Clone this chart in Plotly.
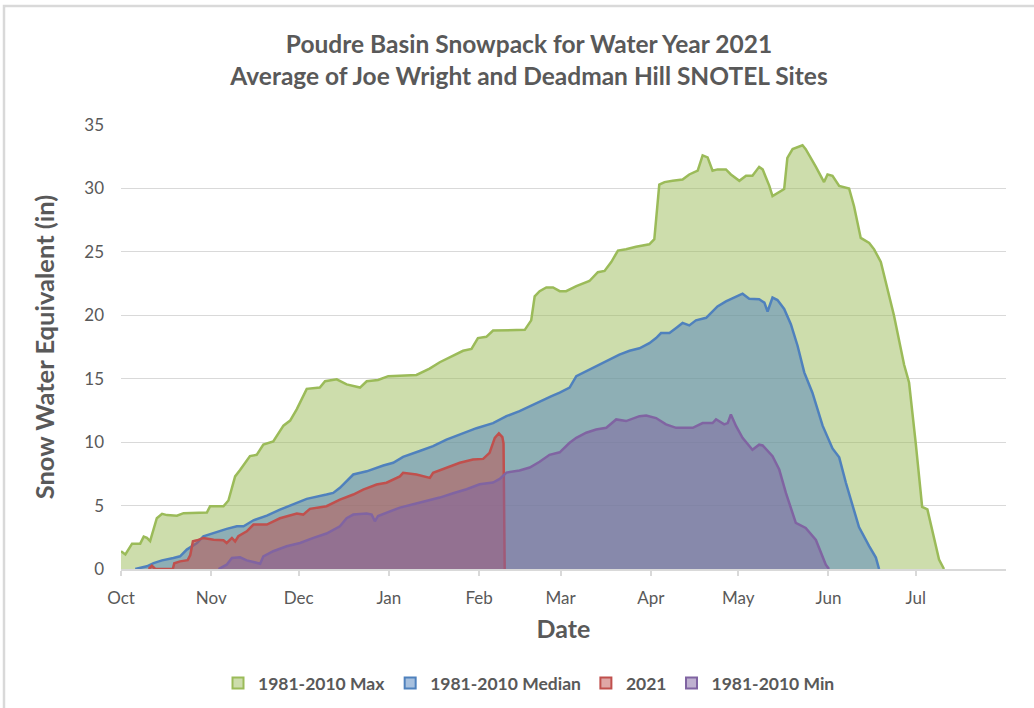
import pandas as pd
import plotly.graph_objects as go

# Day of water year (days since 2020-10-01) and snow water equivalent (in)
max_days = [0, 1.5, 3.8, 6.6, 7.8, 8.9, 10.0, 11.2, 12.3, 14.1, 15.8, 19.2, 21.5, 29.5, 30.6, 35.2, 36.9,
            39.2, 40.9, 44.3, 46.6, 48.9, 52.3, 55.8, 58.1, 60.4, 63.8, 68.3, 70.1, 74.1, 77.5, 82.1, 84.4,
            88.3, 91.8, 101.5, 106, 109.5, 117.5, 120.4, 122.6, 125.5, 127.8, 138.7, 140.9, 142.1, 143.8,
            146.1, 148.4, 150.7, 152.9, 156.4, 160.9, 163.8, 166.1, 168.4, 170.7, 173.5, 176.9, 181.5,
            183.2, 184.9, 186.7, 189.5, 192.9, 195.2, 198.1, 199.8, 201.5, 203.2, 204.9, 207.8, 209.5,
            212.4, 214.7, 216.9, 219.2, 220.4, 222.7, 223.8, 226.1, 227.8, 228.9, 230.7, 234.1, 235.2,
            238.7, 241.5, 242.7, 244.4, 246.7, 250.1, 251.8, 254.1, 257, 258.7, 261, 263.2, 265.5, 269,
            270.7, 273, 275.2, 277, 278.1, 281, 282.7]
max_vals = [1.4, 1.15, 2.0, 2.0, 2.55, 2.45, 2.2, 3.1, 4.0, 4.35, 4.25, 4.2, 4.4, 4.45, 4.95, 4.95, 5.4,
            7.3, 7.8, 8.9, 9.0, 9.8, 10.05, 11.3, 11.7, 12.6, 14.2, 14.3, 14.8, 14.95, 14.55, 14.3, 14.8,
            14.9, 15.2, 15.3, 15.8, 16.3, 17.2, 17.35, 18.2, 18.3, 18.8, 18.85, 19.6, 21.5, 21.9,
            22.2, 22.2, 21.9, 21.9, 22.3, 22.7, 23.4, 23.5, 24.2, 25.1, 25.2, 25.4, 25.6,
            26.0, 30.3, 30.5, 30.6, 30.7, 31.1, 31.4, 32.6, 32.45, 31.4, 31.5, 31.5, 31.1,
            30.6, 31.0, 31.0, 31.7, 31.5, 30.2, 29.4, 29.7, 29.95, 32.4, 33.1, 33.4, 33.1,
            31.7, 30.5, 31.1, 31.0, 30.2, 30.0, 28.6, 26.1, 25.7, 25.2, 24.2, 22.1, 20.0, 16.1,
            14.7, 9.9, 4.9, 4.7, 3.6, 0.74, 0]

median_days = [4.9, 8.9, 11.2, 14.1, 18.0, 20.3, 22.6, 26.1, 28.3, 31.8, 36.3, 39.8, 42.1, 45.5, 50.1,
               54.6, 60.4, 63.8, 70.6, 72.9, 75.2, 79.8, 84.4, 90.1, 93.5, 96.9, 102.6, 107.2, 111.8,
               116.4, 122.1, 127.8, 132.4, 136.9, 141.5, 145.0, 147.9, 150.7, 154.1, 156.4, 160.9, 164.4,
               167.8, 171.2, 174.7, 178.1, 181.5, 183.8, 185.5, 188.4, 190.7, 192.9, 195.2, 197.5, 201,
               202.7, 204.9, 207.8, 210.7, 213.5, 215.8, 219.2, 221, 222.1, 223.8, 225.5, 227.8, 230.1,
               232.4, 234.7, 237.5, 241, 244.4, 246.7, 249, 251.8, 253.5, 257, 259.3, 260.4]
median_vals = [0, 0.21, 0.47, 0.68, 0.87, 1.0, 1.53, 2.05, 2.58, 2.84, 3.16, 3.37, 3.37, 3.84, 4.21,
               4.68, 5.21, 5.53, 5.87, 6.0, 6.4, 7.45, 7.7, 8.16, 8.37, 8.84, 9.3, 9.68, 10.2,
               10.6, 11.1, 11.5, 12.05, 12.45, 12.97, 13.3, 13.63, 13.9, 14.3, 15.2, 15.7, 16.1,
               16.5, 16.9, 17.2, 17.4, 17.8, 18.2, 18.6, 18.6, 19.0, 19.4, 19.2, 19.6, 19.8,
               20.2, 20.7, 21.1, 21.4, 21.7, 21.3, 21.26, 21.0, 20.3, 21.4, 21.2, 20.5, 19.3,
               17.6, 15.5, 13.9, 11.3, 9.5, 8.8, 6.8, 4.7, 3.3, 1.8, 0.9, 0]

wy2021_days = [9.5, 10.6, 11.8, 17.8, 18.3, 20.3, 22.9, 23.8, 24.7, 26.1, 28.3, 31.8, 35.2, 36.3, 38.1,
               39.2, 40.3, 43.2, 45.5, 50.1, 54.6, 60.4, 62.6, 64.9, 70.6, 75.2, 79.8, 83.2, 87.8, 91.2,
               95.8, 96.9, 101.5, 106.1, 107.2, 111.8, 116.4, 120.9, 124.4, 126.6, 128.4, 129.8, 131,
               131.4, 131.8]
wy2021_vals = [0, 0.25, 0, 0, 0.45, 0.6, 0.7, 1.1, 2.18, 2.26, 2.45, 2.3, 2.26, 2.05, 2.45,
               2.18, 2.58, 2.97, 3.5, 3.5, 4.0, 4.37, 4.29, 4.74, 4.95, 5.47, 5.87, 6.26, 6.66, 6.8,
               7.3, 7.58, 7.45, 7.18, 7.58, 7.97, 8.37, 8.63, 8.68, 9.16, 10.34, 10.7, 10.4,
               9.9, 0]

min_days = [33.5, 36.3, 38.1, 40.9, 43.2, 46.6, 47.8, 48.9, 52.3, 56.9, 61.5, 66.1, 70.6, 75.2, 77.5,
            79.8, 84.4, 86.1, 87.2, 88.3, 91.2, 95.8, 100.4, 104.9, 109.5, 114.1, 118.7, 123.2, 127.8,
            130.1, 132.4, 136.9, 140.4, 143.8, 147.2, 150.7, 154.1, 156.4, 159.8, 163.2, 166.7, 170.1,
            173.5, 178.1, 180.4, 183.8, 187.2, 190.7, 196.4, 199.8, 203.2, 204.4, 207.2, 208.4, 209.5,
            211.3, 213.5, 216.9, 219.2, 220.4, 223.8, 226.1, 228.4, 231.8, 235.2, 238.7, 242.1, 243.2]
min_vals = [0, 0.34, 0.87, 0.92, 0.68, 0.53, 0.42, 1.0, 1.4, 1.79, 2.05, 2.45, 2.8, 3.37, 4.0,
            4.29, 4.37, 4.29, 3.76, 4.18, 4.45, 4.84, 5.1, 5.37, 5.63, 5.97, 6.29, 6.68, 6.82,
            7.1, 7.6, 7.76, 8.0, 8.45, 9.0, 9.2, 9.95, 10.34, 10.74, 11.0, 11.13, 11.79,
            11.66, 12.05, 12.1, 11.9, 11.4, 11.13, 11.13, 11.5, 11.5, 11.8, 11.4, 11.5, 12.18,
            11.26, 10.34, 9.4, 9.8, 9.74, 8.9, 7.84, 6.0, 3.63, 3.24, 2.29, 0.34, 0]

month_ticks = ["2020-10-01", "2020-11-01", "2020-12-01", "2021-01-01", "2021-02-01", "2021-03-01",
               "2021-04-01", "2021-05-01", "2021-06-01", "2021-07-01"]
month_labels = ["Oct", "Nov", "Dec", "Jan", "Feb", "Mar", "Apr", "May", "Jun", "Jul"]

series_names = ["1981-2010 Max", "1981-2010 Median", "2021", "1981-2010 Min"]
series_colors = ["#9BBB59", "#4F81BD", "#C0504D", "#8064A2"]

start = pd.Timestamp("2020-10-01")


def to_dates(days):
    return [start + pd.Timedelta(days=float(d)) for d in days]


def rgba(hex_color, a):
    h = hex_color.lstrip("#")
    r, g, b = int(h[0:2], 16), int(h[2:4], 16), int(h[4:6], 16)
    return f"rgba({r},{g},{b},{a})"


series = [(max_days, max_vals), (median_days, median_vals), (wy2021_days, wy2021_vals), (min_days, min_vals)]

FONT = "Lato"
GRAY = "#595959"

fig = go.Figure()
for (days, vals), name, color in zip(series, series_names, series_colors):
    fig.add_trace(go.Scatter(
        x=to_dates(days), y=vals, mode="lines", name=name,
        line=dict(color=color, width=2.5),
        fill="tozeroy", fillcolor=rgba(color, 0.5),
        showlegend=False, hoverinfo="x+y",
    ))

# legend entries (square swatches as in the original)
for name, color in zip(series_names, series_colors):
    fig.add_trace(go.Scatter(
        x=[None], y=[None], mode="markers", name=name,
        marker=dict(symbol="square", size=11, color=rgba(color, 0.5), line=dict(color=color, width=2)),
        showlegend=True,
    ))

L, R, T, B = 121, 28, 125, 139
W, H = 1034, 708
pw, ph = W - L - R, H - T - B

fig.update_layout(
    width=W, height=H,
    margin=dict(l=L, r=R, t=T, b=B, autoexpand=False),
    paper_bgcolor="white", plot_bgcolor="white",
    font=dict(family=FONT, color=GRAY),
    title=dict(
        text="Poudre Basin Snowpack for Water Year 2021<br>Average of Joe Wright and Deadman Hill SNOTEL Sites",
        x=529 / W, xref="container", xanchor="center",
        y=1 - 53 / H, yref="container", yanchor="middle",
        font=dict(family=FONT, size=24.5, color=GRAY, weight="bold"),
    ),
    xaxis=dict(
        type="date", automargin=False,
        range=["2020-10-01", "2021-08-01"],
        tickvals=month_ticks, ticktext=month_labels,
        showgrid=False, showline=True, linecolor="#D9D9D9", linewidth=1.5,
        ticks="outside", ticklen=5, tickcolor="#D9D9D9", tickwidth=1.5,
        ticklabelstandoff=8,
        tickfont=dict(family=FONT, size=17, color=GRAY),
        title=dict(text="Date", font=dict(family=FONT, size=25, color=GRAY, weight="bold"), standoff=13),
        zeroline=False,
    ),
    yaxis=dict(
        range=[0, 35], dtick=5, tick0=0, automargin=False,
        showgrid=True, gridcolor="#D9D9D9", gridwidth=1.2,
        showline=False, zeroline=False, ticks="",
        ticklabelstandoff=16,
        tickfont=dict(family=FONT, size=17, color=GRAY),
        title=dict(text="Snow Water Equivalent (in)", font=dict(family=FONT, size=25.5, color=GRAY, weight="bold"),
                   standoff=22),
    ),
    legend=dict(
        orientation="h", x=(529 - L) / pw, xanchor="center",
        y=(H - B - 683) / ph, yanchor="middle",
        font=dict(family=FONT, size=17.5, color=GRAY, weight="bold"),
        itemwidth=30, traceorder="normal",
    ),
    shapes=[dict(
        type="rect", xref="paper", yref="paper",
        x0=(4 - L) / pw, x1=1.3, y0=-0.6, y1=1 + (T - 6) / ph,
        line=dict(color="#D9D9D9", width=2.5), fillcolor="rgba(0,0,0,0)", layer="below",
    )],
)

fig.write_html("out.html", config={"displayModeBar": False},
               post_script="document.body.style.margin='0';document.body.style.overflow='hidden';")
